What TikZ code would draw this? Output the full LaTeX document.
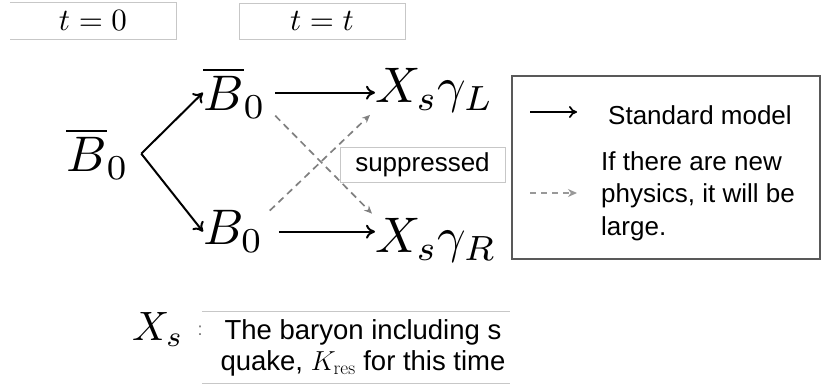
\RequirePackage{fix-cm}
\documentclass[tikz,border=0pt]{standalone}
\usepackage{graphicx}
\usepackage{fontspec}
\newfontfamily\sansf{Liberation Sans}
\usetikzlibrary{arrows.meta}
\newcommand{\mybigmath}[1]{\scalebox{5}{$#1$}}
\begin{document}
\begin{tikzpicture}[x=1pt,y=-1pt,
  lbox/.style={draw=black!22, line width=0.8pt},
  bigmath/.style={inner sep=0pt},
  sm/.style={line width=2pt, -{Computer Modern Rightarrow[length=9pt,width=14pt]}},
  np/.style={line width=1.7pt, draw=black!50, dash pattern=on 7pt off 5pt, -{Stealth[length=8pt,width=7pt]}},
  sf/.style={font=\sansf\fontsize{26}{33}\selectfont},
  sfb/.style={font=\sansf\fontsize{27.5}{31}\selectfont}]
\useasboundingbox (0,0) rectangle (823,385);

% time labels
\node[minimum width=166pt, minimum height=36pt, inner sep=0pt] (t0) at (93,21) {\scalebox{3.1}{$t=0$}};
\draw[lbox] (t0.north west) -- (t0.north east) -- (t0.south east) -- (t0.south west);
\node[lbox, minimum width=166pt, minimum height=36pt, inner sep=0pt] (tt) at (322,21) {\scalebox{3.1}{$t=t$}};

% particles
\node[bigmath, anchor=base west] (B0L) at (66,172) {\mybigmath{\overline{B}_0}};
\node[bigmath, anchor=base west] (Btop) at (203,111) {\mybigmath{\overline{B}_0}};
\node[bigmath, anchor=base west] (Bbot) at (203,245) {\mybigmath{B_0}};
\node[bigmath, anchor=base west] (XL) at (375,103) {\mybigmath{X_s\gamma_L}};
\node[bigmath, anchor=base west] (XR) at (375,253) {\mybigmath{X_s\gamma_R}};
\coordinate (apex) at ([xshift=12pt]B0L.east);

% standard model arrows
\draw[sm] (apex) -- (Btop.west);
\draw[sm] (apex) -- (Bbot.west);
\draw[sm, shorten <=9pt] (Btop.east) -- (Btop.east -| XL.west);
\draw[sm, shorten <=15pt] (Bbot.east) -- (Bbot.east -| XR.west);

% new physics arrows
\draw[np] ([shift={(9,-3)}]Btop.south east) -- ([shift={(-3,-5)}]XR.north west);
\draw[np] ([shift={(6,0)}]Bbot.north east) -- ([shift={(-5,2)}]XL.south west);

\node[sf, lbox, fill=white, minimum width=165pt, minimum height=35pt, inner sep=0pt] (supp) at (422.5,164.5) {suppressed};

% legend
\draw[draw=black!65, line width=1.5pt] (512,76) rectangle (820,259);
\coordinate (s1) at (530,112);
\coordinate (s2) at (577,112);
\draw[line width=1.7pt, -{Computer Modern Rightarrow[length=8pt,width=12pt]}] (s1) -- (s2);
\coordinate (d1) at (530,193);
\coordinate (d2) at (577,193);
\draw[line width=1.5pt, draw=black!40, dash pattern=on 6pt off 5pt, -{Stealth[length=9pt,width=8pt]}] (d1) -- (d2);
\node[sf, anchor=base west, inner sep=0pt] (smtxt) at (608,125) {Standard model};
\node[sf, anchor=base west, align=left, inner sep=0pt] (nptxt) at (601,236) {If there are new\\physics, it will be\\large.};

% bottom note
\node[anchor=base west, inner sep=0pt] (Xs) at (132,340) {\scalebox{4.1}{$X_s$}};
\node[font=\sansf\fontsize{18}{18}\selectfont, text=black!55, inner sep=0pt] (colon) at (200,331) {:};
\node[minimum width=308pt, minimum height=71pt, inner sep=0pt] (descbox) at (356,347.5) {};
\node[sfb, align=center, inner sep=0pt] (desc) at ([xshift=7pt]descbox.center) {The baryon including s\\quake, $K_{\mathrm{res}}$ for this time};
\draw[lbox] (descbox.north west) -- (descbox.north east);
\draw[lbox] (descbox.south west) -- (descbox.south east);
\end{tikzpicture}
\end{document}
